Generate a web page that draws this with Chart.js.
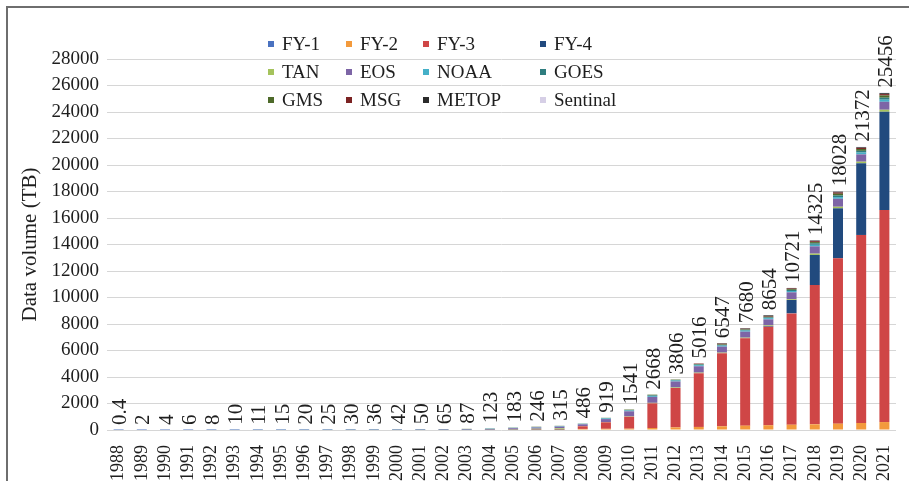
<!DOCTYPE html>
<html>
<head>
<meta charset="utf-8">
<script src="https://cdn.jsdelivr.net/npm/chart.js@4"></script>
<style>
  html, body { margin: 0; padding: 0; background: #fff; overflow: hidden; }
  #wrap { position: absolute; left: 0; top: 0; width: 913px; height: 481px; }
  #frame { position: absolute; left: 6px; top: 6px; width: 940px; height: 500px;
           border-top: 2px solid #6e6e6e; border-left: 2px solid #6e6e6e; pointer-events: none; }
</style>
</head>
<body>
<div id="wrap"><canvas id="myChart"></canvas></div>
<div id="frame"></div>
<script>
const years = [
    '1988', '1989', '1990', '1991', '1992', '1993', '1994', '1995', '1996', '1997',
    '1998', '1999', '2000', '2001', '2002', '2003', '2004', '2005', '2006', '2007',
    '2008', '2009', '2010', '2011', '2012', '2013', '2014', '2015', '2016', '2017',
    '2018', '2019', '2020', '2021',
];

// data volume per satellite, TB
const fy1 = [0.4, 1, 2, 2, 2, 2, 2, 3, 3, 3, 3, 5, 6, 6, 7, 7, 8, 8, 8, 6,
    0, 0, 0, 0, 0, 0, 0, 0, 0, 0, 0, 0, 0, 0];
const fy2 = [0, 0, 0, 0, 0, 0, 0, 0, 0, 3, 5, 6, 8, 10, 14, 18, 28, 40, 55, 70,
    80, 90, 100, 150, 200, 230, 280, 330, 360, 400, 430, 480, 530, 600];
const fy3 = [0, 0, 0, 0, 0, 0, 0, 0, 0, 0, 0, 0, 0, 0, 0, 0, 0, 0, 0, 0,
    200, 490, 900, 1860, 2970, 4050, 5510, 6590, 7440, 8400, 10510, 12480, 14190, 16000];
const fy4 = [0, 0, 0, 0, 0, 0, 0, 0, 0, 0, 0, 0, 0, 0, 0, 0, 0, 0, 0, 0,
    0, 0, 0, 0, 0, 0, 0, 0, 50, 1010, 2270, 3770, 5410, 7420];
const tan = [0, 0, 0, 0, 0, 0, 0, 0, 0, 0, 0, 0, 0, 0, 0, 0, 0, 25, 35, 50,
    20, 25, 30, 40, 40, 50, 50, 50, 50, 60, 100, 120, 120, 150];
const eos = [0, 0, 0, 0, 0, 0, 0, 0, 0, 0, 0, 0, 4, 8, 14, 26, 45, 60, 90, 125,
    130, 220, 380, 450, 450, 480, 450, 450, 450, 520, 550, 600, 550, 600];
const noaa = [0, 1, 2, 2, 3, 4, 4, 6, 8, 9, 11, 13, 14, 16, 18, 22, 26, 32, 38, 42,
    40, 50, 60, 70, 70, 80, 80, 80, 90, 100, 120, 130, 140, 160];
const goes = [0, 0, 0, 0, 0, 0, 0, 0, 0, 0, 0, 0, 0, 0, 0, 0, 0, 0, 0, 0,
    0, 20, 30, 40, 40, 50, 50, 60, 60, 80, 110, 120, 130, 150];
const gms = [0, 0, 0, 2, 3, 4, 5, 6, 9, 10, 11, 12, 10, 10, 12, 14, 16, 18, 20, 22,
    16, 24, 41, 58, 36, 40, 40, 40, 50, 60, 90, 130, 140, 170];
const msg = [0, 0, 0, 0, 0, 0, 0, 0, 0, 0, 0, 0, 0, 0, 0, 0, 0, 0, 0, 0,
    0, 0, 0, 0, 0, 36, 50, 40, 50, 50, 70, 90, 80, 100];
const metop = [0, 0, 0, 0, 0, 0, 0, 0, 0, 0, 0, 0, 0, 0, 0, 0, 0, 0, 0, 0,
    0, 0, 0, 0, 0, 0, 37, 40, 54, 41, 50, 70, 52, 70];
const sentinal = [0, 0, 0, 0, 0, 0, 0, 0, 0, 0, 0, 0, 0, 0, 0, 0, 0, 0, 0, 0,
    0, 0, 0, 0, 0, 0, 0, 0, 0, 0, 25, 38, 30, 36];

const yTicks = [0, 2000, 4000, 6000, 8000, 10000, 12000, 14000, 16000, 18000, 20000, 22000, 24000, 26000, 28000];

const serif = '"Liberation Serif", "Times New Roman", serif';
const ink = '#1e1e1e';

function series(label, values, color) {
    return {
        label: label,
        data: values,
        backgroundColor: color,
        borderWidth: 0,
        barPercentage: 0.43,
        categoryPercentage: 1,
    };
}

const data = {
    labels: years,
    datasets: [
        series('FY-1', fy1, '#4a72c0'),
        series('FY-2', fy2, '#f39a3c'),
        series('FY-3', fy3, '#cf4646'),
        series('FY-4', fy4, '#214a7e'),
        series('TAN', tan, '#a5c35c'),
        series('EOS', eos, '#7d65a6'),
        series('NOAA', noaa, '#45b0c8'),
        series('GOES', goes, '#2f7d7f'),
        series('GMS', gms, '#4e6a2a'),
        series('MSG', msg, '#7b2222'),
        series('METOP', metop, '#2b2b2b'),
        series('Sentinal', sentinal, '#d6cfe6'),
    ]
};

// totals written vertically above each stack
const totalLabels = {
    id: 'totalLabels',
    afterDatasetsDraw(chart) {
        const ctx = chart.ctx;
        const x = chart.scales.x;
        const y = chart.scales.y;
        ctx.save();
        ctx.font = '21px ' + serif;
        ctx.fillStyle = ink;
        ctx.textAlign = 'left';
        ctx.textBaseline = 'middle';
        chart.data.labels.forEach((_, i) => {
            let sum = 0;
            chart.data.datasets.forEach(ds => { sum += ds.data[i]; });
            sum = Math.round(sum * 10) / 10;
            const px = x.getPixelForValue(i) + 2;
            const py = y.getPixelForValue(sum) - 5;
            ctx.save();
            ctx.translate(px, py);
            ctx.rotate(-Math.PI / 2);
            ctx.fillText(String(sum), 0, 0);
            ctx.restore();
        });
        ctx.restore();
    }
};

// 3 x 4 legend sitting inside the plot
const gridLegend = {
    id: 'gridLegend',
    afterDraw(chart) {
        const ctx = chart.ctx;
        const cols = [271, 349, 426, 543];
        const rows = [44, 72, 100];
        ctx.save();
        ctx.font = '19px ' + serif;
        ctx.textAlign = 'left';
        ctx.textBaseline = 'middle';
        chart.data.datasets.forEach((ds, i) => {
            const cx = cols[i % 4];
            const cy = rows[Math.floor(i / 4)];
            ctx.fillStyle = ds.backgroundColor;
            ctx.fillRect(cx - 3, cy - 3, 6, 6);
            ctx.fillStyle = ink;
            ctx.fillText(ds.label, cx + 11, cy + 1);
        });
        ctx.restore();
    }
};

const options = {
    responsive: true,
    maintainAspectRatio: false,
    animation: false,
    layout: {
        padding: { left: 14, top: 59, right: 0, bottom: 0 }
    },
    scales: {
        x: {
            stacked: true,
            grid: { display: false },
            border: { display: false },
            ticks: {
                autoSkip: false,
                minRotation: 90,
                maxRotation: 90,
                padding: 7,
                color: ink,
                font: { family: serif, size: 18 },
            },
            afterFit: s => { s.height = 51; },
        },
        y: {
            stacked: true,
            min: 0,
            max: 28000,
            afterBuildTicks: s => { s.ticks = yTicks.map(v => ({ value: v })); },
            grid: {
                color: '#d6d6d6',
                lineWidth: 1,
                drawTicks: false,
            },
            border: { display: false },
            ticks: {
                padding: 8,
                color: ink,
                font: { family: serif, size: 19 },
                callback: v => String(v),
            },
            title: {
                display: true,
                text: 'Data volume (TB)',
                color: ink,
                font: { family: serif, size: 21 },
                padding: { top: 4, bottom: 0 },
            },
            afterFit: s => { s.width = 93; },
        },
    },
    plugins: {
        legend: { display: false },
        tooltip: { enabled: false },
    }
};

const config = {
    type: 'bar',
    data: data,
    options,
    plugins: [totalLabels, gridLegend],
};

const myChart = new Chart(
    document.getElementById('myChart'),
    config
);
</script>
</body>
</html>
